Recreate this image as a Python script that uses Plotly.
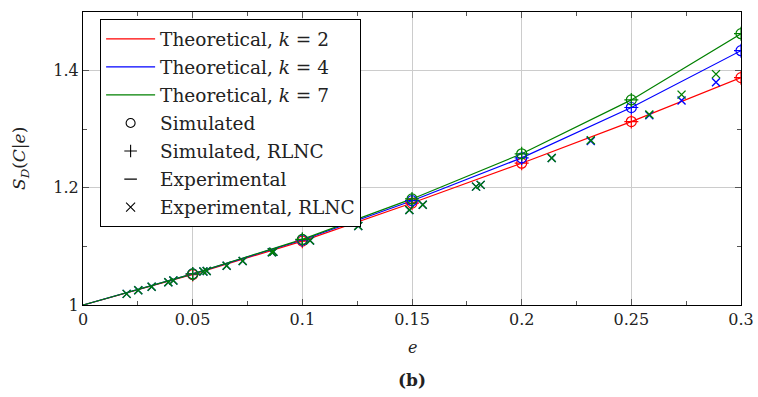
import plotly.graph_objects as go

# Theoretical S_D(C|e) curves for several k
e_theo = [0.0, 0.05, 0.10, 0.15, 0.20, 0.25, 0.30]
theo_k2 = [1.000, 1.052, 1.109, 1.174, 1.242, 1.313, 1.388]
theo_k4 = [1.000, 1.053, 1.111, 1.178, 1.251, 1.337, 1.434]
theo_k7 = [1.000, 1.053, 1.112, 1.181, 1.258, 1.350, 1.463]

# Simulated points (circle and RLNC plus share the same positions)
e_sim = [0.05, 0.10, 0.15, 0.20, 0.25, 0.30]
sim_k2 = [1.052, 1.109, 1.174, 1.242, 1.313, 1.388]
sim_k4 = [1.053, 1.111, 1.178, 1.251, 1.337, 1.434]
sim_k7 = [1.053, 1.112, 1.181, 1.258, 1.350, 1.463]

# Experimental RLNC measurements
e_exp = [0.0199, 0.0252, 0.0313, 0.0389, 0.0412, 0.0549, 0.0564, 0.0655,
         0.0728, 0.0861, 0.0868, 0.1035, 0.1255, 0.1488, 0.1549, 0.1792,
         0.1813, 0.2137, 0.2315, 0.2582, 0.2729, 0.2886]
exp_k4 = [1.019, 1.025, 1.031, 1.039, 1.042, 1.057, 1.058, 1.067,
          1.075, 1.090, 1.091, 1.110, 1.135, 1.162, 1.171, 1.202,
          1.205, 1.251, 1.280, 1.324, 1.349, 1.380]
exp_k7 = [1.019, 1.025, 1.031, 1.039, 1.042, 1.057, 1.058, 1.067,
          1.075, 1.090, 1.091, 1.110, 1.135, 1.162, 1.171, 1.202,
          1.205, 1.251, 1.281, 1.325, 1.359, 1.394]

x_ticks = [0, 0.05, 0.1, 0.15, 0.2, 0.25, 0.3]
x_tick_text = ["0", "0.05", "0.1", "0.15", "0.2", "0.25", "0.3"]
y_ticks = [1.0, 1.2, 1.4]
y_tick_text = ["1", "1.2", "1.4"]

RED = "#ff0000"
BLUE = "#0000ff"
GREEN = "#008000"
FONT = "DejaVu Serif"
TXT = "#222222"

fig = go.Figure()

for name, ys, col in [("Theoretical, <i>k</i> = 2", theo_k2, RED),
                      ("Theoretical, <i>k</i> = 4", theo_k4, BLUE),
                      ("Theoretical, <i>k</i> = 7", theo_k7, GREEN)]:
    fig.add_trace(go.Scatter(x=e_theo, y=ys, mode="lines", name=name,
                             line=dict(color=col, width=1.2),
                             legendgroup=name))

for ys, col in [(sim_k2, RED), (sim_k4, BLUE), (sim_k7, GREEN)]:
    fig.add_trace(go.Scatter(x=e_sim, y=ys, mode="markers", showlegend=False,
                             marker=dict(symbol="circle-open", size=10,
                                         color=col, line=dict(width=1.2))))
    fig.add_trace(go.Scatter(x=e_sim, y=ys, mode="markers", showlegend=False,
                             marker=dict(symbol="cross-thin-open", size=10,
                                         color=col, line=dict(width=1.2))))

for ys, col in [(exp_k4, BLUE), (exp_k7, GREEN)]:
    fig.add_trace(go.Scatter(x=e_exp, y=ys, mode="markers", showlegend=False,
                             marker=dict(symbol="x-thin-open", size=8,
                                         color=col, line=dict(width=1.4))))

# Legend keys for the marker types
for name, sym in [("Simulated", "circle-open"),
                  ("Simulated, RLNC", "cross-thin-open"),
                  ("Experimental", "line-ew-open"),
                  ("Experimental, RLNC", "x-thin-open")]:
    fig.add_trace(go.Scatter(x=[None], y=[None], mode="markers", name=name,
                             legendgroup=name,
                             marker=dict(symbol=sym, size=9, color="black",
                                         line=dict(width=1.1))))

axis_common = dict(showline=True, linecolor="black", linewidth=1,
                   mirror="allticks", ticks="inside", ticklen=6,
                   tickcolor="#555555", tickwidth=1,
                   showgrid=True, gridcolor="#cccccc", gridwidth=1,
                   zeroline=False, automargin=False,
                   tickfont=dict(family=FONT, size=16, color=TXT))

fig.update_xaxes(range=[0, 0.3], tickvals=x_ticks, ticktext=x_tick_text,
                 minor=dict(dtick=0.025, tick0=0, ticks="inside", ticklen=4,
                            tickcolor="#555555", showgrid=False),
                 **axis_common)
fig.update_yaxes(range=[1, 1.5], tickvals=y_ticks, ticktext=y_tick_text,
                 minor=dict(dtick=0.1, tick0=1, ticks="inside", ticklen=4,
                            tickcolor="#555555", showgrid=False),
                 **axis_common)

fig.update_layout(
    width=758, height=397,
    margin=dict(l=83, r=17, t=12, b=92, autoexpand=False),
    plot_bgcolor="white", paper_bgcolor="white",
    font=dict(family=FONT, size=16, color=TXT),
    legend=dict(x=0.026, y=0.975, xanchor="left", yanchor="top",
                bordercolor="black", borderwidth=1, bgcolor="white",
                traceorder="grouped", tracegroupgap=1, itemwidth=49,
                font=dict(family=FONT, size=18.5, color=TXT)),
    annotations=[
        dict(text="<i>e</i>", xref="paper", yref="paper", x=0.5, y=-0.145,
             showarrow=False, yanchor="middle",
             font=dict(family=FONT, size=16, color=TXT)),
        dict(text="<b>(b)</b>", xref="paper", yref="paper", x=0.5, y=-0.255,
             showarrow=False, yanchor="middle",
             font=dict(family=FONT, size=17, color=TXT)),
        dict(text="<i>S</i><sub><i>D</i></sub>(<i>C</i>|<i>e</i>)",
             xref="paper", yref="paper", x=-0.095, y=0.5, textangle=-90,
             showarrow=False, xanchor="center", yanchor="middle",
             font=dict(family=FONT, size=17, color=TXT)),
    ],
)

fig.write_html("out.html")
